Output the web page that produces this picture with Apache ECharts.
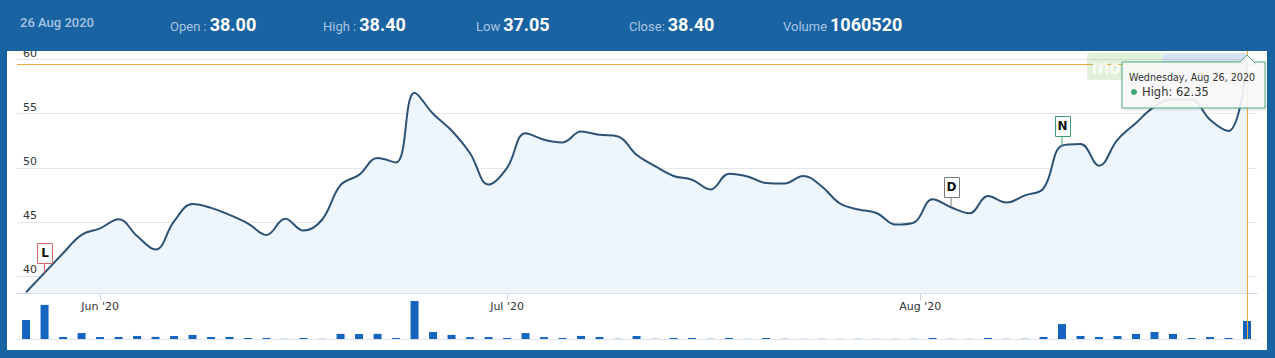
<!DOCTYPE html>
<html><head><meta charset="utf-8">
<script src="https://cdn.jsdelivr.net/npm/echarts@6/dist/echarts.min.js"></script>
<style>html,body{margin:0;padding:0;background:#1963a3;}#c{width:1275px;height:358px;}</style>
</head><body><div id="c"></div>
<script>
const dates = [
 '2020-05-26','2020-05-27','2020-05-28','2020-05-29',
 '2020-06-01','2020-06-02','2020-06-03','2020-06-04','2020-06-05',
 '2020-06-08','2020-06-09','2020-06-10','2020-06-11','2020-06-12',
 '2020-06-15','2020-06-16','2020-06-17','2020-06-18','2020-06-19',
 '2020-06-22','2020-06-23','2020-06-24','2020-06-25','2020-06-26',
 '2020-06-29','2020-06-30',
 '2020-07-01','2020-07-02','2020-07-03',
 '2020-07-06','2020-07-07','2020-07-08','2020-07-09','2020-07-10',
 '2020-07-13','2020-07-14','2020-07-15','2020-07-16','2020-07-17',
 '2020-07-20','2020-07-21','2020-07-22','2020-07-23','2020-07-24',
 '2020-07-27','2020-07-28','2020-07-29','2020-07-30','2020-07-31',
 '2020-08-03','2020-08-04','2020-08-05','2020-08-06','2020-08-07',
 '2020-08-10','2020-08-11','2020-08-12','2020-08-13','2020-08-14',
 '2020-08-17','2020-08-18','2020-08-19','2020-08-20','2020-08-21',
 '2020-08-24','2020-08-25','2020-08-26'
];
const price = [
 38.5, 40.3, 42.1, 43.8,
 44.4, 45.25, 43.7, 42.45, 45.05,
 46.65, 46.3, 45.65, 44.85, 43.8,
 45.3, 44.2, 45.2, 48.4, 49.35,
 50.9, 50.5, 56.95, 55.0, 53.45,
 51.35, 48.45,
 50.0, 53.2, 52.6,
 52.35, 53.35, 53.05, 52.9, 51.2,
 50.15, 49.25, 48.9, 48.0, 49.45,
 49.2, 48.6, 48.55, 49.25, 48.3,
 46.7, 46.15, 45.8, 44.75, 44.95,
 47.1, 46.35, 45.8, 47.4, 46.8,
 47.45, 48.1, 52.05, 52.2, 50.2,
 52.6, 54.15, 55.65, 56.35, 56.3,
 54.45, 53.4, 59.6
];
const volume = [
 1120000, 2010000, 120000, 350000,
 115000, 120000, 180000, 125000, 175000,
 240000, 118000, 122000, 60000, 58000,
 12000, 62000, 10000, 300000, 295000,
 305000, 55000, 2240000, 410000, 240000,
 110000, 115000,
 60000, 350000, 112000,
 58000, 180000, 120000, 15000, 175000,
 12000, 60000, 58000, 14000, 62000,
 10000, 60000, 12000, 9000, 11000,
 8000, 13000, 10000, 9000, 12000,
 60000, 11000, 9000, 62000, 12000,
 10000, 120000, 880000, 180000, 120000,
 175000, 300000, 410000, 300000, 60000,
 115000, 58000, 1060520
];
const monthStarts = ['2020-06-01','2020-07-01','2020-08-01'];
const monthLabels = ["Jun '20","Jul '20","Aug '20"];
const priceTicks = [40, 45, 50, 55, 60];
const flagIndex = [1, 50, 56];
const flagText = ['L', 'D', 'N'];
const flagColor = ['#d46a6a', '#7a7a7a', '#3f9d6f'];
const headerDate = '26 Aug 2020';
const headerLabels = ['Open :', 'High :', 'Low', 'Close:', 'Volume'];
const headerValues = ['38.00', '38.40', '37.05', '38.40', '1060520'];
const tipDate = 'Wednesday, Aug 26, 2020';
const tipName = 'High';
const tipValue = '62.35';

function ordinalPos(ds) {
  const t = Date.parse(ds);
  for (let i = 0; i < dates.length - 1; i++) {
    const a = Date.parse(dates[i]), b = Date.parse(dates[i + 1]);
    if (t >= a && t < b) return i + (t - a) / (b - a);
  }
  return dates.length - 1;
}
const monthPos = monthStarts.map(ordinalPos);
const last = dates.length - 1;

const chart = echarts.init(document.getElementById('c'), null, {renderer: 'svg'});
const FONT = 'DejaVu Sans';
const headerX = [170, 323, 476, 629, 783];

const graphics = [
  {type: 'rect', shape: {x: 0, y: 0, width: 1275, height: 51}, style: {fill: '#1963a3'}, z: 100},
  {type: 'rect', shape: {x: 0, y: 0, width: 7, height: 358}, style: {fill: '#1963a3'}, z: 100},
  {type: 'rect', shape: {x: 1267, y: 0, width: 8, height: 358}, style: {fill: '#1963a3'}, z: 100},
  {type: 'rect', shape: {x: 0, y: 350, width: 1275, height: 8}, style: {fill: '#1963a3'}, z: 100},
  {type: 'text', x: 20, y: 22, z: 101, style: {text: headerDate, font: '500 13px Roboto', fill: '#a9c3e0', verticalAlign: 'middle'}}
];
headerLabels.forEach((l, i) => {
  graphics.push({type: 'text', x: headerX[i], y: 22, z: 101, style: {
    text: '{l|' + l + '}{v|' + headerValues[i] + '}', verticalAlign: 'middle',
    rich: {
      l: {font: '13px Roboto', fill: '#a9c3e0', verticalAlign: 'bottom', lineHeight: 22, padding: [0, 3, 0, 0]},
      v: {font: 'bold 18px Roboto', fill: '#ffffff', verticalAlign: 'bottom', lineHeight: 22}
    }
  }});
});
// watermark (logo behind tooltip)
graphics.push({type: 'rect', shape: {x: 1087, y: 53, width: 76, height: 27, r: 3}, style: {fill: 'rgba(120,190,90,0.22)'}, z: 50});
graphics.push({type: 'rect', shape: {x: 1163, y: 53, width: 84, height: 27, r: 3}, style: {fill: 'rgba(90,140,200,0.25)'}, z: 50});
graphics.push({type: 'text', x: 1092, y: 67, z: 51, style: {text: 'mo', font: 'bold 20px Roboto', fill: 'rgba(255,255,255,0.85)', verticalAlign: 'middle'}});
// tooltip
graphics.push({type: 'polygon', z: 60, shape: {points: [[1122,62],[1240,62],[1247,55],[1254,62],[1265,62],[1265,108],[1122,108]]},
  style: {fill: 'rgba(250,250,250,0.9)', stroke: '#55aa80', lineWidth: 1, shadowBlur: 3, shadowColor: 'rgba(0,0,0,0.15)', shadowOffsetX: 1, shadowOffsetY: 1}});
graphics.push({type: 'text', x: 1129, y: 77, z: 61, style: {text: tipDate, font: '9.6px "DejaVu Sans"', fill: '#333', verticalAlign: 'middle'}});
graphics.push({type: 'circle', z: 61, shape: {cx: 1134, cy: 92, r: 3}, style: {fill: '#3aa673'}});
graphics.push({type: 'text', x: 1142, y: 92, z: 61, style: {text: tipName + ': ' + tipValue, font: '11.5px "DejaVu Sans"', fill: '#333', verticalAlign: 'middle'}});

const crossStyle = {color: '#f2a93b', width: 1, type: 'solid'};

chart.setOption({
  animation: false,
  backgroundColor: '#ffffff',
  grid: [
    {left: 17, top: 51, width: 1240, height: 242.3},
    {left: 17, top: 293.3, width: 1240, height: 45.7}
  ],
  xAxis: [
    {type: 'value', gridIndex: 0, min: -0.49, max: 66.54,
     axisLine: {show: true, onZero: false, lineStyle: {color: '#ccd6eb'}},
     axisTick: {show: true, customValues: monthPos, length: 7, lineStyle: {color: '#ccd6eb'}},
     axisLabel: {customValues: monthPos, margin: 8, color: '#333', fontSize: 11, fontFamily: FONT,
       formatter: v => { let k = 0, d = 1e9; monthPos.forEach((p, i) => { if (Math.abs(p - v) < d) { d = Math.abs(p - v); k = i; } }); return monthLabels[k]; }},
     splitLine: {show: false}},
    {type: 'value', gridIndex: 1, min: -0.49, max: 66.54,
     axisLine: {show: true, onZero: false, lineStyle: {color: '#e0e5ec'}},
     axisTick: {show: false}, axisLabel: {show: false}, splitLine: {show: false}}
  ],
  yAxis: [
    {type: 'value', gridIndex: 0, min: 38.4, max: 60.8,
     axisLine: {show: false},
     axisTick: {show: false, customValues: priceTicks},
     axisLabel: {customValues: priceTicks, inside: true, margin: 6, verticalAlign: 'bottom', lineHeight: 13,
       color: '#333', fontSize: 11, fontFamily: FONT},
     splitLine: {show: true, lineStyle: {color: '#e6e6e6'}}},
    {type: 'value', gridIndex: 1, min: 0, max: 2693000, show: false, splitLine: {show: false}}
  ],
  series: [
    {type: 'line', xAxisIndex: 0, yAxisIndex: 0, data: price.map((v, i) => [i, v]),
     smooth: 0.4, symbol: 'none', lineStyle: {color: '#2d5276', width: 2},
     areaStyle: {color: '#eef5fc', opacity: 1}, z: 3,
     markLine: {silent: true, symbol: ['none', 'none'], label: {show: false}, lineStyle: crossStyle,
       data: [{xAxis: last}, {yAxis: price[last]}]}},
    {type: 'custom', xAxisIndex: 0, yAxisIndex: 0, z: 6,
     data: flagIndex.map(i => [i, price[i]]),
     renderItem: (params, api) => {
       const p = api.coord([api.value(0), api.value(1)]);
       const c = flagColor[params.dataIndex];
       return {type: 'group', children: [
         {type: 'line', shape: {x1: p[0], y1: p[1], x2: p[0], y2: p[1] - 10}, style: {stroke: c, lineWidth: 1}},
         {type: 'rect', shape: {x: Math.round(p[0] - 7.5) + 0.5, y: Math.round(p[1] - 30) + 0.5, width: 15, height: 20}, style: {fill: '#fff', stroke: c, lineWidth: 1}},
         {type: 'text', style: {text: flagText[params.dataIndex], x: p[0] + 0.5, y: p[1] - 20, align: 'center', verticalAlign: 'middle', font: 'bold 12px "DejaVu Sans"', fill: '#111'}}
       ]};
     }},
    {type: 'bar', xAxisIndex: 1, yAxisIndex: 1, data: volume.map((v, i) => [i, v]),
     barWidth: 8, itemStyle: {color: '#1464c0'},
     markLine: {silent: true, symbol: ['none', 'none'], label: {show: false}, lineStyle: crossStyle,
       data: [{xAxis: last}]}}
  ],
  graphic: graphics
});
</script></body></html>
